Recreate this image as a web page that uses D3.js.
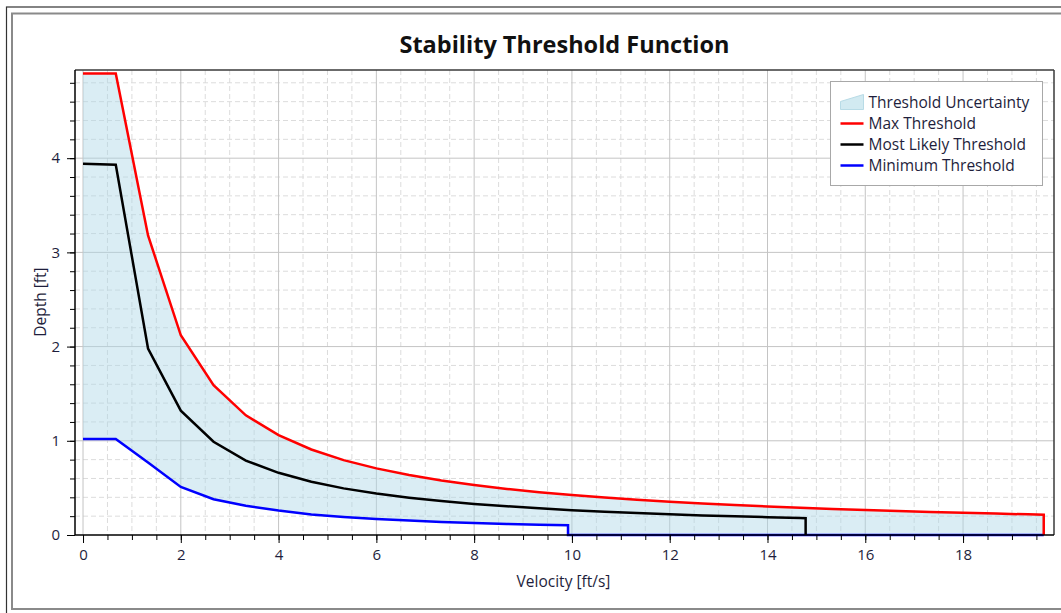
<!DOCTYPE html>
<html>
<head>
<meta charset="utf-8">
<script src="https://cdn.jsdelivr.net/npm/d3@7"></script>
<style>
    body { margin: 0; background: #fff; }
    svg { display: block; font-family: "Open Sans", "Noto Sans", sans-serif; }
</style>
</head>
<body>
<main></main>
<script>
// Dados (velocidade em ft/s, profundidade em ft)
const maxVelocity = [0, 0.67, 1.33, 2, 2.67, 3.33, 4, 4.67, 5.33, 6, 6.67, 7.33, 8, 8.67, 9.33, 10,
    10.67, 11.33, 12, 12.67, 13.33, 14, 14.67, 15.33, 16, 16.67, 17.33, 18, 18.67, 19.33, 19.65, 19.65];
const maxDepth = [4.9, 4.9, 3.18, 2.12, 1.59, 1.27, 1.06, 0.908, 0.795, 0.707, 0.636, 0.578, 0.53, 0.489, 0.454, 0.424,
    0.397, 0.374, 0.353, 0.335, 0.318, 0.303, 0.289, 0.277, 0.265, 0.254, 0.245, 0.236, 0.227, 0.219, 0.216, 0];

const likelyVelocity = [0, 0.67, 1.33, 2, 2.67, 3.33, 4, 4.67, 5.33, 6, 6.67, 7.33, 8, 8.67, 9.33, 10,
    10.67, 11.33, 12, 12.67, 13.33, 14, 14.67, 14.78, 14.78];
const likelyDepth = [3.94, 3.93, 1.98, 1.32, 0.99, 0.79, 0.66, 0.565, 0.495, 0.44, 0.396, 0.36, 0.33, 0.305, 0.283, 0.264,
    0.247, 0.233, 0.22, 0.208, 0.198, 0.189, 0.18, 0.179, 0];

const minVelocity = [0, 0.67, 1.33, 2, 2.67, 3.33, 4, 4.67, 5.33, 6, 6.67, 7.33, 8, 8.67, 9.33, 9.92, 9.92, 19.65];
const minDepth = [1.02, 1.02, 0.77, 0.51, 0.38, 0.31, 0.26, 0.218, 0.191, 0.17, 0.153, 0.139, 0.128, 0.118, 0.109, 0.103, 0, 0];

const xTicks = [0, 2, 4, 6, 8, 10, 12, 14, 16, 18];
const yTicks = [0, 1, 2, 3, 4];
const legendLabels = ['Threshold Uncertainty', 'Max Threshold', 'Most Likely Threshold', 'Minimum Threshold'];

function createChart() {
    // Configurações do SVG
    const svgWidth = 1061, svgHeight = 613;
    const margin = { top: 70, right: 7, bottom: 78, left: 75 };
    const width = svgWidth - margin.left - margin.right;
    const height = svgHeight - margin.top - margin.bottom;
    const textColor = '#1e1e3c';

    const root = d3.select('main').append('svg')
        .attr('width', svgWidth)
        .attr('height', svgHeight);

    // Moldura da janela
    root.append('rect')
        .attr('x', 6.5).attr('y', 7).attr('width', 1080).attr('height', 620)
        .attr('fill', 'none').attr('stroke', '#333').attr('stroke-width', 1.2);
    root.append('rect')
        .attr('x', 12).attr('y', 13.5).attr('width', 1080).attr('height', 595.5)
        .attr('fill', 'none').attr('stroke', '#8a8a8a').attr('stroke-width', 2);

    // Título
    root.append('text')
        .attr('x', margin.left + width / 2)
        .attr('y', 53)
        .attr('text-anchor', 'middle')
        .attr('font-size', 23.5)
        .attr('font-weight', 'bold')
        .attr('fill', '#111')
        .text('Stability Threshold Function');

    const svg = root.append('g')
        .attr('transform', `translate(${margin.left},${margin.top})`);

    // Escalas
    const xScale = d3.scaleLinear().domain([-0.164, 19.86]).range([0, width]);
    const yScale = d3.scaleLinear().domain([0, 4.936]).range([height, 0]);

    // Grade secundária (tracejada)
    const xMinor = d3.range(0, 19.8, 0.5).filter(v => v % 2 !== 0);
    const yMinor = d3.range(0.2, 4.9, 0.2).filter(v => Math.abs(v - Math.round(v)) > 0.01);

    svg.selectAll('.gx-minor').data(xMinor).enter().append('line')
        .attr('x1', d => xScale(d)).attr('x2', d => xScale(d))
        .attr('y1', 0).attr('y2', height)
        .attr('stroke', '#dcdcdc').attr('stroke-dasharray', '5,3');
    svg.selectAll('.gy-minor').data(yMinor).enter().append('line')
        .attr('x1', 0).attr('x2', width)
        .attr('y1', d => yScale(d)).attr('y2', d => yScale(d))
        .attr('stroke', '#dcdcdc').attr('stroke-dasharray', '5,3');

    // Grade principal
    svg.selectAll('.gx').data(xTicks).enter().append('line')
        .attr('x1', d => xScale(d)).attr('x2', d => xScale(d))
        .attr('y1', 0).attr('y2', height)
        .attr('stroke', '#c4c4c4');
    svg.selectAll('.gy').data(yTicks.filter(d => d > 0)).enter().append('line')
        .attr('x1', 0).attr('x2', width)
        .attr('y1', d => yScale(d)).attr('y2', d => yScale(d))
        .attr('stroke', '#c4c4c4');

    const toPoints = (vs, ds) => vs.map((v, i) => [v, ds[i]]);
    const maxPts = toPoints(maxVelocity, maxDepth);
    const likelyPts = toPoints(likelyVelocity, likelyDepth);
    const minPts = toPoints(minVelocity, minDepth);

    const line = d3.line().x(d => xScale(d[0])).y(d => yScale(d[1]));

    // Faixa de incerteza (entre máximo e mínimo)
    svg.append('path')
        .attr('d', line(maxPts.concat(minPts.slice().reverse())) + 'Z')
        .attr('fill', 'rgba(173,216,230,0.45)');

    // Curvas
    [[minPts, '#0000ff'], [likelyPts, '#000'], [maxPts, '#ff0000']].forEach(([pts, color]) => {
        svg.append('path')
            .attr('d', line(pts))
            .attr('fill', 'none')
            .attr('stroke', color)
            .attr('stroke-width', 2.5)
            .attr('stroke-linejoin', 'miter');
    });

    // Eixos
    const xAxis = svg.append('g')
        .attr('transform', `translate(0,${height})`)
        .call(d3.axisBottom(xScale).tickValues(xTicks).tickSize(8).tickPadding(6));
    svg.append('g')
        .attr('transform', `translate(0,${height})`)
        .call(d3.axisBottom(xScale).tickValues(d3.range(0, 19.8, 0.5)).tickSize(5).tickFormat(''))
        .select('.domain').remove();

    const yAxis = svg.append('g')
        .call(d3.axisLeft(yScale).tickValues(yTicks).tickFormat(d3.format('d')).tickSize(8).tickPadding(7));
    svg.append('g')
        .call(d3.axisLeft(yScale).tickValues(d3.range(0, 4.9, 0.2)).tickSize(5).tickFormat(''))
        .select('.domain').remove();

    [xAxis, yAxis].forEach(ax => {
        ax.select('.domain').remove();
        ax.selectAll('text')
            .attr('font-size', 15)
            .attr('font-family', '"Open Sans", sans-serif')
            .attr('fill', textColor);
    });
    svg.selectAll('.tick line').attr('stroke', '#000');

    // Borda da área do gráfico
    svg.append('line').attr('x1', 0).attr('x2', width).attr('y1', 0).attr('y2', 0)
        .attr('stroke', '#3a3a3a').attr('stroke-width', 1.5);
    svg.append('line').attr('x1', width).attr('x2', width).attr('y1', 0).attr('y2', height)
        .attr('stroke', '#3a3a3a').attr('stroke-width', 1.5);
    svg.append('line').attr('x1', 0).attr('x2', 0).attr('y1', 0).attr('y2', height)
        .attr('stroke', '#000').attr('stroke-width', 1.5);
    svg.append('line').attr('x1', 0).attr('x2', width).attr('y1', height).attr('y2', height)
        .attr('stroke', '#000').attr('stroke-width', 1.5);

    // Rótulos dos eixos
    root.append('text')
        .attr('x', margin.left + width / 2 - 1)
        .attr('y', 587)
        .attr('text-anchor', 'middle')
        .attr('font-size', 15.5)
        .attr('fill', textColor)
        .text('Velocity [ft/s]');
    root.append('text')
        .attr('transform', 'translate(46,302) rotate(-90)')
        .attr('text-anchor', 'middle')
        .attr('font-size', 15.5)
        .attr('fill', textColor)
        .text('Depth [ft]');

    // Legenda
    const legend = root.append('g').attr('transform', 'translate(830.5,81.5)');
    legend.append('rect')
        .attr('width', 212).attr('height', 104)
        .attr('fill', '#fff').attr('stroke', '#a8a8a8');

    const rowY = i => 21 + i * 21;
    legend.append('path')
        .attr('d', 'M10,28 L10,20 L33,13 L33,28 Z')
        .attr('fill', 'rgba(173,216,230,0.55)')
        .attr('stroke', '#b8dbe6');
    const legendColors = [null, '#ff0000', '#000', '#0000ff'];
    legendColors.forEach((c, i) => {
        if (!c) return;
        legend.append('line')
            .attr('x1', 10).attr('x2', 33)
            .attr('y1', rowY(i)).attr('y2', rowY(i))
            .attr('stroke', c).attr('stroke-width', 2.5);
    });
    legend.selectAll('.lbl').data(legendLabels).enter().append('text')
        .attr('x', 38)
        .attr('y', (d, i) => rowY(i) + 5)
        .attr('font-size', 15.5)
        .attr('fill', textColor)
        .text(d => d);
}

createChart();
</script>
</body>
</html>
